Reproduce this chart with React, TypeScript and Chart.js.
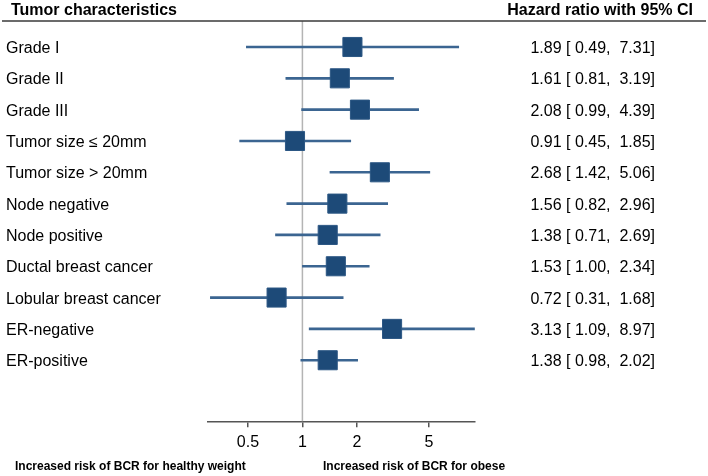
import React, { useEffect, useRef } from "react";
import { Chart, registerables } from "chart.js";

Chart.register(...registerables);

const LABELS = [
  "Grade I",
  "Grade II",
  "Grade III",
  "Tumor size ≤ 20mm",
  "Tumor size > 20mm",
  "Node negative",
  "Node positive",
  "Ductal breast cancer",
  "Lobular breast cancer",
  "ER-negative",
  "ER-positive",
];
const HR = [1.89, 1.61, 2.08, 0.91, 2.68, 1.56, 1.38, 1.53, 0.72, 3.13, 1.38];
const LOWER = [0.49, 0.81, 0.99, 0.45, 1.42, 0.82, 0.71, 1.0, 0.31, 1.09, 0.98];
const UPPER = [7.31, 3.19, 4.39, 1.85, 5.06, 2.96, 2.69, 2.34, 1.68, 8.97, 2.02];
const X_TICKS = [0.5, 1, 2, 5];
const REF_VALUE = 1;

const HEADER_LEFT = "Tumor characteristics";
const HEADER_RIGHT = "Hazard ratio with 95% CI";
const FOOT_LEFT = "Increased risk of BCR for healthy weight";
const FOOT_RIGHT = "Increased risk of BCR for obese";

const FONT = "'Liberation Sans', Arial, sans-serif";
const SQUARE = "#1d4a78";
const LINE = "#3b6591";

const fmt = (v: number) => v.toFixed(2).padStart(5, " ");
const VALUE_TEXT = HR.map(
  (h, i) => `${h.toFixed(2)} [${fmt(LOWER[i])}, ${fmt(UPPER[i])}]`
);

const textPlugin = {
  id: "forestText",
  beforeDatasetsDraw(chart: any) {
    const { ctx, chartArea, scales } = chart;
    const x1 = scales.x.getPixelForValue(REF_VALUE);
    ctx.save();
    ctx.strokeStyle = "#b4b4b4";
    ctx.lineWidth = 1.5;
    ctx.beginPath();
    ctx.moveTo(x1, chartArea.top);
    ctx.lineTo(x1, chartArea.bottom);
    ctx.stroke();
    ctx.restore();
  },
  afterDraw(chart: any) {
    const { ctx, scales, chartArea } = chart;
    ctx.save();
    ctx.fillStyle = "#000";
    ctx.textBaseline = "alphabetic";
    // headers
    ctx.font = `bold 16px ${FONT}`;
    ctx.textAlign = "left";
    ctx.fillText(HEADER_LEFT, 11, 15);
    ctx.textAlign = "right";
    ctx.fillText(HEADER_RIGHT, 693, 15);
    // header rule
    ctx.strokeStyle = "#3a3a3a";
    ctx.lineWidth = 1.5;
    ctx.beginPath();
    ctx.moveTo(2, chartArea.top);
    ctx.lineTo(706, chartArea.top);
    ctx.stroke();
    // rows
    ctx.font = `16px ${FONT}`;
    LABELS.forEach((lab, i) => {
      const y = scales.y.getPixelForValue(i) + 6;
      ctx.textAlign = "left";
      ctx.fillText(lab, 6, y);
      ctx.textAlign = "right";
      ctx.fillText(VALUE_TEXT[i], 655, y);
    });
    // footers
    ctx.font = `bold 12px ${FONT}`;
    ctx.textAlign = "left";
    ctx.fillText(FOOT_LEFT, 15, 470);
    ctx.fillText(FOOT_RIGHT, 323, 470);
    ctx.restore();
  },
};

export default function App() {
  const ref = useRef<HTMLCanvasElement | null>(null);
  useEffect(() => {
    if (!ref.current) return;
    const rows = LABELS.map((_, i) => i);
    const chart = new Chart(ref.current, {
      type: "scatter",
      data: {
        datasets: [
          {
            type: "bar",
            indexAxis: "y",
            data: rows.map((i) => ({ x: [LOWER[i], UPPER[i]], y: i })) as any,
            backgroundColor: LINE,
            borderWidth: 0,
            barThickness: 2,
            order: 2,
          } as any,
          {
            type: "scatter",
            data: rows.map((i) => ({ x: HR[i], y: i })),
            pointStyle: "rect",
            pointRadius: 13.5,
            pointHoverRadius: 13.5,
            backgroundColor: SQUARE,
            borderColor: "#2c5784",
            borderWidth: 1,
            order: 1,
          },
        ],
      },
      options: {
        animation: false,
        responsive: false,
        events: [],
        layout: { padding: { left: 207.8, right: 233.2, top: 21, bottom: 17.5 } },
        plugins: { legend: { display: false }, tooltip: { enabled: false } },
        scales: {
          x: {
            type: "logarithmic",
            offset: false,
            min: Math.min(...LOWER),
            max: Math.max(...UPPER),
            afterBuildTicks: (scale: any) => {
              scale.ticks = X_TICKS.map((v) => ({ value: v }));
            },
            ticks: {
              autoSkip: false,
              maxRotation: 0,
              color: "#000",
              font: { family: FONT, size: 16 },
              padding: 6,
              callback: (v: any) => String(v),
            },
            grid: {
              offset: false,
              drawOnChartArea: false,
              drawTicks: true,
              tickLength: 6,
              color: "#555",
              lineWidth: 1.5,
            },
            border: { display: true, color: "#555", width: 1.5 },
          },
          y: {
            type: "linear",
            reverse: true,
            offset: false,
            min: -0.83,
            max: 11.95,
            display: false,
            grid: { offset: false },
          },
        },
      },
      plugins: [textPlugin],
    });
    return () => chart.destroy();
  }, []);
  return (
    <div style={{ position: "fixed", left: 0, top: 0, width: 708, height: 476, background: "#fff" }}>
      <canvas ref={ref} width={708} height={476} style={{ display: "block" }} />
    </div>
  );
}
